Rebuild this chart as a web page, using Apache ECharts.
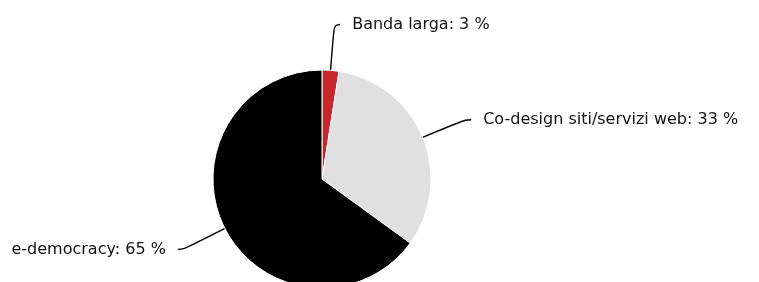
<!DOCTYPE html>
<html>
<head>
<meta charset="utf-8">
<script src="https://cdn.jsdelivr.net/npm/echarts@6/dist/echarts.min.js"></script>
<style>
html,body{margin:0;padding:0;background:#fff;}
#chart{width:759px;height:282px;}
</style>
</head>
<body>
<div id="chart"></div>
<script>
var categories = ['Banda larga', 'Co-design siti/servizi web', 'e-democracy'];
var values = [2.5, 32.5, 65];
var displayPercent = [3, 33, 65];
var colors = ['#c8262b', '#e0e0e0', '#000000'];

var chart = echarts.init(document.getElementById('chart'), null, {renderer: 'canvas'});
var data = categories.map(function (c, i) {
  return {name: c, value: values[i], itemStyle: {color: colors[i]}};
});
chart.setOption({
  animation: false,
  backgroundColor: '#ffffff',
  series: [{
    type: 'pie',
    center: [322, 179],
    radius: [0, 109],
    startAngle: 90,
    clockwise: true,
    data: data,
    itemStyle: {borderColor: '#ffffff', borderWidth: 1},
    label: {
      show: true,
      position: 'outside',
      fontFamily: 'DejaVu Sans',
      fontSize: 16,
      color: '#111111',
      distanceToLabelLine: 12,
      formatter: function (p) { return p.name + ': ' + displayPercent[p.dataIndex] + ' %'; }
    },
    labelLine: {
      show: true,
      length: 46,
      length2: 6,
      smooth: 0.5,
      lineStyle: {color: '#000000', width: 1.4}
    },
    emphasis: {disabled: true}
  }]
});
</script>
</body>
</html>
